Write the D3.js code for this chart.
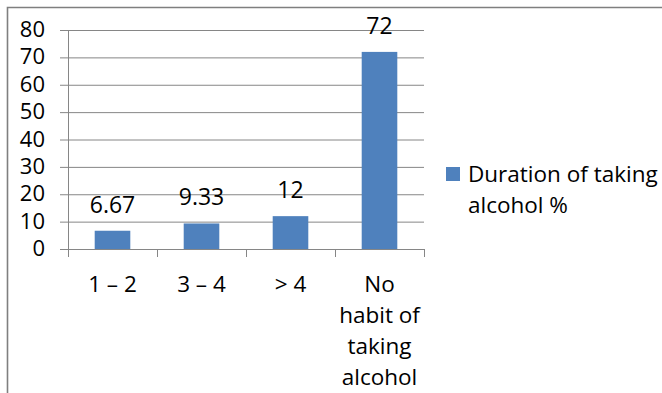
<!DOCTYPE html>
<html>
<head>
<meta charset="utf-8">
<script src="https://cdn.jsdelivr.net/npm/d3@7"></script>
<style>
  html, body { margin: 0; padding: 0; background: #fff; }
  svg text { font-family: "Open Sans", sans-serif; font-size: 22.5px; fill: #000; }
</style>
</head>
<body>
<svg id="chart" width="662" height="393"></svg>
<script>
const categories = ["1 \u2013 2", "3 \u2013 4", "> 4", "No habit of taking alcohol"];
const values = [6.67, 9.33, 12, 72];
const valueLabels = ["6.67", "9.33", "12", "72"];
const yTicks = [0, 10, 20, 30, 40, 50, 60, 70, 80];
const seriesName = "Duration of taking alcohol %";

const svg = d3.select("#chart");
const plotLeft = 68, plotRight = 424, plotTop = 30, plotBottom = 249;
const gray = "#868686";

// outer border (only top and left visible)
svg.append("path")
  .attr("d", "M7.5,393 V7.5 H662")
  .attr("fill", "none").attr("stroke", "#7f7f7f").attr("stroke-width", 1.6);

const x = d3.scaleBand().domain(categories).range([plotLeft, plotRight])
  .paddingInner(0.6).paddingOuter(0.3);
const y = d3.scaleLinear().domain([0, 80]).range([plotBottom, plotTop]);

// gridlines
const grid = svg.append("g").attr("transform", `translate(${plotLeft},0)`)
  .call(d3.axisLeft(y).tickValues(yTicks).tickSize(-(plotRight - plotLeft)).tickFormat(""));
grid.select(".domain").remove();
grid.selectAll("line").attr("stroke", gray);

// y axis with outside ticks
const yAxis = svg.append("g").attr("transform", `translate(${plotLeft},0)`)
  .call(d3.axisLeft(y).tickValues(yTicks).tickSize(8).tickPadding(15).tickSizeOuter(0));
yAxis.select(".domain").attr("stroke", gray);
yAxis.selectAll("line").attr("stroke", gray);
yAxis.selectAll("text").attr("dy", "0.3em")
  .style("font-size", "22px").style("font-family", "'Open Sans', sans-serif").attr("fill", "#000");

// x axis boundary ticks
const xb = d3.scaleLinear().domain([0, categories.length]).range([plotLeft, plotRight]);
const xAxis = svg.append("g").attr("transform", `translate(0,${plotBottom})`)
  .call(d3.axisBottom(xb).tickValues(d3.range(categories.length + 1)).tickSize(8).tickSizeOuter(0).tickFormat(""));
xAxis.select(".domain").attr("stroke", gray);
xAxis.selectAll("line").attr("stroke", gray);

// bars
svg.append("g").selectAll("rect").data(values).join("rect")
  .attr("x", (d, i) => x(categories[i]))
  .attr("width", x.bandwidth())
  .attr("y", d => y(d))
  .attr("height", d => y(0) - y(d))
  .attr("fill", "#4F81BD");

// value labels
svg.append("g").selectAll("text").data(values).join("text")
  .attr("x", (d, i) => x(categories[i]) + x.bandwidth() / 2)
  .attr("y", d => y(d) - 18)
  .attr("text-anchor", "middle")
  .style("font-size", "23px")
  .text((d, i) => valueLabels[i]);

// wrapping helper
function wrapLines(textSel, str, maxW) {
  const words = str.split(" ");
  const lines = [];
  let cur = "";
  const probe = textSel.append("tspan");
  words.forEach(w => {
    const test = cur ? cur + " " + w : w;
    probe.text(test);
    if (probe.node().getComputedTextLength() > maxW && cur) {
      lines.push(cur); cur = w;
    } else cur = test;
  });
  if (cur) lines.push(cur);
  probe.remove();
  return lines;
}

// category labels
const step = xb(1) - xb(0);
categories.forEach((c, i) => {
  const cx = x(c) + x.bandwidth() / 2;
  const t = svg.append("text").attr("text-anchor", "middle");
  const lines = wrapLines(t, c, step - 5);
  lines.forEach((ln, j) => {
    t.append("tspan").attr("x", cx).attr("y", 291.5 + j * 31).text(ln);
  });
});

// legend
svg.append("rect").attr("x", 446).attr("y", 167).attr("width", 14).attr("height", 14).attr("fill", "#4F81BD");
const lt = svg.append("text");
const llines = wrapLines(lt, seriesName, 194);
llines.forEach((ln, j) => {
  lt.append("tspan").attr("x", 468).attr("y", 181.5 + j * 31.5).text(ln);
});
</script>
</body>
</html>
